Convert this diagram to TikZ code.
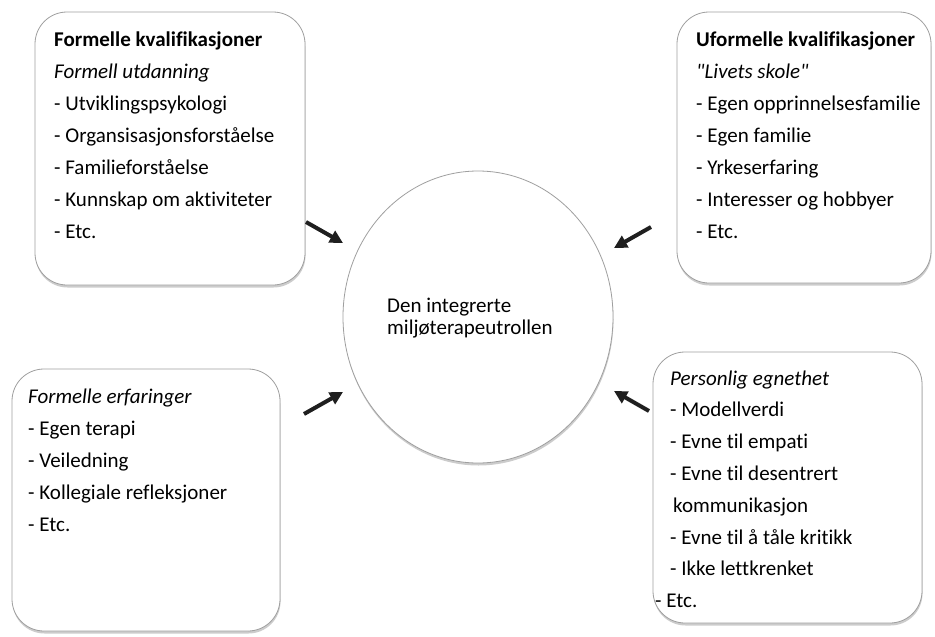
\documentclass[tikz,border=0pt]{standalone}
\usepackage{fontspec}
\setmainfont{Carlito}[Ligatures={NoCommon}]
\font\quoteitalic="Carlito/I" at 21pt
\newcommand\straightquote{{\quoteitalic\char34}}
\usetikzlibrary{arrows.meta,shadows,shapes.geometric}
\begin{document}
\begin{tikzpicture}[x=1pt,y=-1pt,
  box/.style={draw=gray!75, line width=0.8pt, fill=white, rounded corners=32pt,
    drop shadow={shadow xshift=0.5pt, shadow yshift=-2.5pt, opacity=0.4, fill=gray}},
  roundel/.style={ellipse, draw=gray!75, line width=0.8pt, fill=white,
    drop shadow={shadow xshift=0.5pt, shadow yshift=-2.5pt, opacity=0.4, fill=gray}},
  txt/.style={font=\fontsize{21}{24}\selectfont, anchor=base west, inner sep=0pt, text=black},
  push/.style={line width=4pt, draw=black!88, -{Triangle[length=13pt,width=13pt]}}]
\useasboundingbox (0,0) rectangle (935,637);
\fill[white] (0,0) rectangle (935,637);

% boxes
\node[box, minimum width=270pt, minimum height=273pt] (b1) at (170,148.5) {};
\node[box, minimum width=254pt, minimum height=271pt] (b2) at (804,147.5) {};
\node[box, minimum width=268pt, minimum height=262pt] (b3) at (146,500) {};
\node[box, minimum width=269pt, minimum height=271pt] (b4) at (787.5,487.5) {};

% centre
\node[roundel, minimum width=270pt, minimum height=292pt] (c) at (478,317) {};
\node[txt] (c1) at (387,312) {Den integrerte};
\node[txt] (c2) at (387,334) {miljøterapeutrollen};

% texts of box 1
\foreach \t [count=\i] in {{\textbf{Formelle kvalifikasjoner}},{\textit{Formell utdanning}},
  {- Utviklingspsykologi},{- Organsisasjonsforståelse},{- Familieforståelse},
  {- Kunnskap om aktiviteter},{- Etc.}}
  \node[txt] (ta\i) at (54,{46+32*(\i-1)}) {\t};

% texts of box 2
\foreach \t [count=\i] in {{\textbf{Uformelle kvalifikasjoner}},{\textit{\straightquote Livets skole\straightquote}},
  {- Egen opprinnelsesfamilie},{- Egen familie},{- Yrkeserfaring},
  {- Interesser og hobbyer},{- Etc.}}
  \node[txt] (tb\i) at (696,{46+32*(\i-1)}) {\t};

% texts of box 3
\foreach \t [count=\i] in {{\textit{Formelle erfaringer}},{- Egen terapi},{- Veiledning},
  {- Kollegiale refleksjoner},{- Etc.}}
  \node[txt] (tc\i) at (28,{403+32.2*(\i-1)}) {\t};

% texts of box 4
\foreach \t [count=\i] in {{\textit{Personlig egnethet}},{- Modellverdi},{- Evne til empati},
  {- Evne til desentrert},{\hspace*{3pt}kommunikasjon},{- Evne til å tåle kritikk},
  {- Ikke lettkrenket}}
  \node[txt] (td\i) at (670,{385+31.8*(\i-1)}) {\t};
\node[txt] (td8) at (655,607.6) {- Etc.};

% arrows
\coordinate (p1) at (306,222);
\coordinate (q1) at (343,243);
\coordinate (p2) at (651,227);
\coordinate (q2) at (614,248);
\coordinate (p3) at (304,414);
\coordinate (q3) at (343,392);
\coordinate (p4) at (649,411);
\coordinate (q4) at (614,391);
\draw[push] (p1) -- (q1);
\draw[push] (p2) -- (q2);
\draw[push] (p3) -- (q3);
\draw[push] (p4) -- (q4);
\end{tikzpicture}
\end{document}
